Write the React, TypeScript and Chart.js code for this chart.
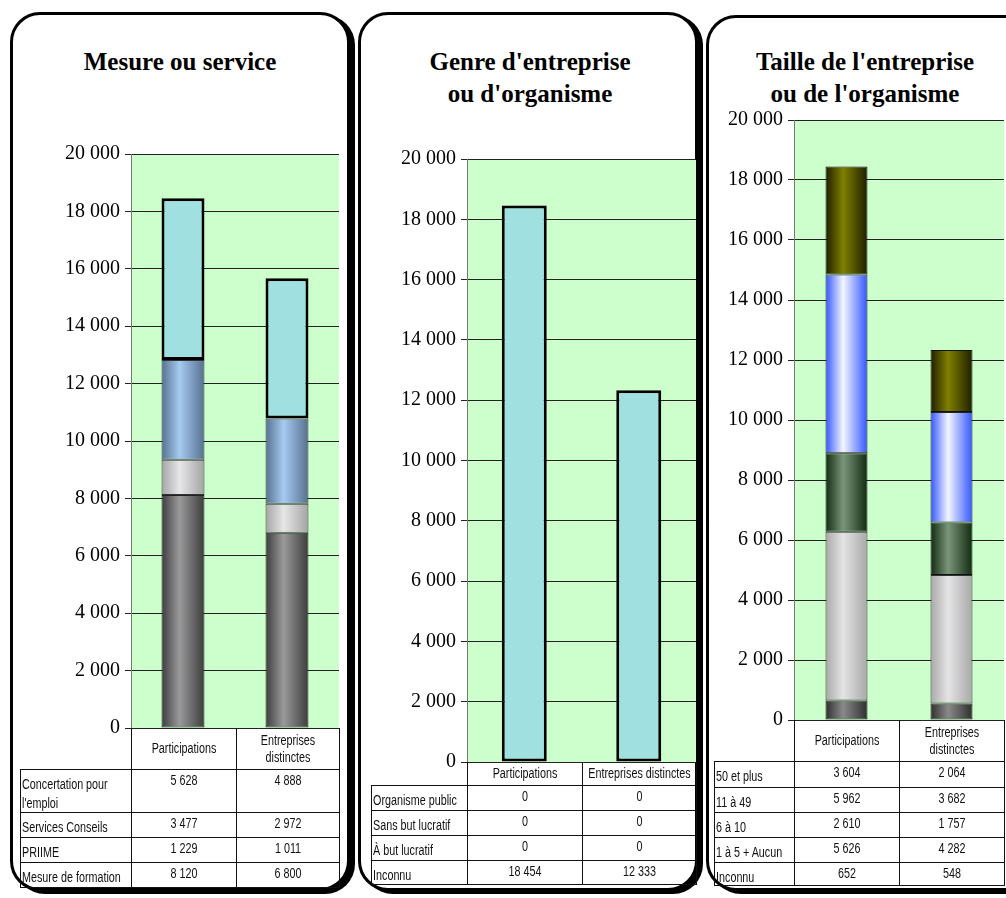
import React, { useEffect, useRef } from "react";
import { Chart, registerables } from "chart.js";

Chart.register(...registerables);

// ---------- DATA ----------
const CATEGORIES = ["Participations", "Entreprises distinctes"];
const Y_TICKS_MAX = 20000;
const Y_TICKS_STEP = 2000;

// Panel 1 : Mesure ou service
const mesureFormation = [8120, 6800];
const priime = [1229, 1011];
const servicesConseils = [3477, 2972];
const concertationEmploi = [5628, 4888];

// Panel 2 : Genre d'entreprise ou d'organisme
const genreInconnu = [18454, 12333];
const butLucratif = [0, 0];
const sansButLucratif = [0, 0];
const organismePublic = [0, 0];

// Panel 3 : Taille de l'entreprise ou de l'organisme
const tailleInconnu = [652, 548];
const unACinqAucun = [5626, 4282];
const sixADix = [2610, 1757];
const onzeAQuaranteNeuf = [5962, 3682];
const cinquanteEtPlus = [3604, 2064];

// ---------- helpers ----------
const fmt = (v: number) => String(v).replace(/\B(?=(\d{3})+(?!\d))/g, " ");

const SERIF = '"Liberation Serif", "Times New Roman", serif';
const SANS = '"Liberation Sans", Arial, sans-serif';
const SQUEEZE = 0.77;

function gradient(edge: string, center: string, barPct: number) {
  return (ctx: any) => {
    const chart = ctx.chart;
    const area = chart.chartArea;
    if (!area) return center;
    const xs = chart.scales.x;
    const x = xs.getPixelForValue(ctx.dataIndex);
    const cw = (area.right - area.left) / CATEGORIES.length;
    const hw = (cw * barPct) / 2;
    const g = chart.ctx.createLinearGradient(x - hw, 0, x + hw, 0);
    g.addColorStop(0, edge);
    g.addColorStop(0.42, center);
    g.addColorStop(1, edge);
    return g;
  };
}

const bgPlugin = {
  id: "plotBg",
  beforeDraw(chart: any) {
    const { ctx, chartArea: a } = chart;
    ctx.save();
    ctx.fillStyle = "#CCFFCC";
    ctx.fillRect(a.left, a.top, a.right - a.left, a.bottom - a.top);
    ctx.restore();
  },
};

type DS = {
  label: string;
  data: number[];
  color: any;
  border: number;
  borderColor: string;
};

function BarChart(props: {
  left: number;
  top: number;
  width: number;
  height: number;
  yWidth: number;
  pad: { left: number; right: number; top: number; bottom: number };
  barPct: number;
  datasets: DS[];
}) {
  const ref = useRef<HTMLCanvasElement | null>(null);
  useEffect(() => {
    const chart = new Chart(ref.current as HTMLCanvasElement, {
      type: "bar",
      data: {
        labels: CATEGORIES,
        datasets: props.datasets.map((d) => ({
          label: d.label,
          data: d.data,
          backgroundColor: d.color,
          borderColor: d.borderColor,
          borderWidth: d.border,
          borderSkipped: false,
          categoryPercentage: 1,
          barPercentage: props.barPct,
        })),
      },
      options: {
        animation: false,
        responsive: false,
        maintainAspectRatio: false,
        layout: { padding: props.pad },
        plugins: {
          legend: { display: false },
          tooltip: { enabled: false },
          title: { display: false },
        },
        scales: {
          x: { stacked: true, display: false },
          y: {
            stacked: true,
            min: 0,
            max: Y_TICKS_MAX,
            ticks: {
              stepSize: Y_TICKS_STEP,
              color: "#000",
              padding: 5,
              font: { family: SERIF, size: 20 },
              callback: (v: any) => fmt(Number(v)),
            },
            grid: { color: "#222", lineWidth: 1, tickLength: 6 },
            border: { color: "#777", width: 1 },
            afterFit: (s: any) => {
              s.width = props.yWidth;
              s.paddingTop = 0;
              s.paddingBottom = 0;
            },
          },
        },
      },
      plugins: [bgPlugin],
    } as any);
    return () => chart.destroy();
  }, []);
  return (
    <canvas
      ref={ref}
      width={props.width}
      height={props.height}
      style={{ position: "absolute", left: props.left, top: props.top, width: props.width, height: props.height }}
    />
  );
}

function Squeezed(props: { width: number; inset?: number; align: "left" | "center"; children: React.ReactNode }) {
  const inset = (props.inset || 0) / SQUEEZE;
  return (
    <div
      style={{
        boxSizing: "border-box",
        width: props.width / SQUEEZE,
        minWidth: props.width / SQUEEZE,
        paddingLeft: inset,
        paddingRight: inset,
        flexShrink: 0,
        transform: `scaleX(${SQUEEZE})`,
        transformOrigin: "left top",
        textAlign: props.align,
      }}
    >
      {props.children}
    </div>
  );
}

function DataTable(props: {
  labelLeft: number;
  cols: number[];
  headerTop: number;
  headerBottom: number;
  headerInset: number;
  rowBottoms: number[];
  rows: { label: string; values: number[] }[];
  headerLabels: string[];
}) {
  const cells: React.ReactNode[] = [];
  const { cols } = props;
  const cellBase: React.CSSProperties = {
    position: "absolute",
    boxSizing: "border-box",
    border: "1px solid #111",
    fontFamily: SANS,
    fontSize: 14,
    color: "#111",
    lineHeight: "15px",
    overflow: "hidden",
  };
  props.headerLabels.forEach((h, i) => {
    const w = cols[i + 1] - cols[i] + 1;
    cells.push(
      <div
        key={"h" + i}
        style={{
          ...cellBase,
          borderTop: "none",
          left: cols[i],
          top: props.headerTop,
          width: w,
          height: props.headerBottom - props.headerTop + 1,
          display: "flex",
          alignItems: "center",
          lineHeight: "17px",
        }}
      >
        <Squeezed width={w - 2} inset={props.headerInset} align="center">
          {h}
        </Squeezed>
      </div>
    );
  });
  let prev = props.headerBottom;
  props.rows.forEach((r, ri) => {
    const top = prev;
    const bottom = props.rowBottoms[ri];
    prev = bottom;
    const h = bottom - top + 1;
    const lw = cols[0] - props.labelLeft + 1;
    const tall = h > 30;
    cells.push(
      <div
        key={"l" + ri}
        style={{
          ...cellBase,
          left: props.labelLeft,
          top,
          width: lw,
          height: h,
          paddingLeft: 1,
          paddingTop: tall ? 5 : 7,
          lineHeight: tall ? "19px" : "15px",
        }}
      >
        <Squeezed width={lw - 3} align="left">
          {r.label}
        </Squeezed>
      </div>
    );
    r.values.forEach((v, vi) => {
      const w = cols[vi + 1] - cols[vi] + 1;
      cells.push(
        <div
          key={"v" + ri + "_" + vi}
          style={{
            ...cellBase,
            left: cols[vi],
            top,
            width: w,
            height: h,
            paddingTop: 3,
          }}
        >
          <Squeezed width={w - 2} align="center">
            {fmt(v)}
          </Squeezed>
        </div>
      );
    });
  });
  return <>{cells}</>;
}

function Panel(props: { left: number; top: number; width: number; height: number }) {
  return (
    <div
      style={{
        position: "absolute",
        left: props.left,
        top: props.top,
        width: props.width,
        height: props.height,
        boxSizing: "border-box",
        border: "3px solid #000",
        borderRadius: 30,
        boxShadow: "5px 3px 0 #000",
        background: "#fff",
      }}
    />
  );
}

function Title(props: { cx: number; top: number; lines: string[] }) {
  return (
    <div
      style={{
        position: "absolute",
        left: props.cx - 160,
        width: 320,
        top: props.top,
        textAlign: "center",
        fontFamily: SERIF,
        fontWeight: "bold",
        fontSize: 25,
        lineHeight: "32px",
        color: "#000",
      }}
    >
      {props.lines.map((l, i) => (
        <div key={i}>{l}</div>
      ))}
    </div>
  );
}

export default function App() {
  const p1 = 0.413;
  const p2 = 0.393;
  const p3 = 0.4;
  const ds1: DS[] = [
    { label: "Mesure de formation", data: mesureFormation, color: gradient("#3c3c3c", "#9a9a9a", p1), border: 1, borderColor: "#222" },
    { label: "PRIIME", data: priime, color: gradient("#a4a4a4", "#e6e6e6", p1), border: 1, borderColor: "#333" },
    { label: "Services Conseils", data: servicesConseils, color: gradient("#55708f", "#a6caf0", p1), border: 1, borderColor: "#333" },
    { label: "Concertation pour l'emploi", data: concertationEmploi, color: "#A0E0E0", border: 3, borderColor: "#000" },
  ];
  const ds2: DS[] = [
    { label: "Inconnu", data: genreInconnu, color: "#A0E0E0", border: 3, borderColor: "#000" },
    { label: "À but lucratif", data: butLucratif, color: "#A0E0E0", border: 0, borderColor: "#000" },
    { label: "Sans but lucratif", data: sansButLucratif, color: "#A0E0E0", border: 0, borderColor: "#000" },
    { label: "Organisme public", data: organismePublic, color: "#A0E0E0", border: 0, borderColor: "#000" },
  ];
  const ds3: DS[] = [
    { label: "Inconnu", data: tailleInconnu, color: gradient("#2e2e2e", "#8a8a8a", p3), border: 1, borderColor: "#111" },
    { label: "1 à 5 + Aucun", data: unACinqAucun, color: gradient("#a8a8a8", "#e4e4e4", p3), border: 1, borderColor: "#333" },
    { label: "6 à 10", data: sixADix, color: gradient("#112a11", "#7a967a", p3), border: 1, borderColor: "#111" },
    { label: "11 à 49", data: onzeAQuaranteNeuf, color: gradient("#3355ff", "#f4f6ff", p3), border: 1, borderColor: "#222" },
    { label: "50 et plus", data: cinquanteEtPlus, color: gradient("#1e1e00", "#808000", p3), border: 1, borderColor: "#111" },
  ];

  return (
    <div style={{ position: "absolute", left: 0, top: 0, width: 1006, height: 898, overflow: "hidden", background: "#fff" }}>
      <Panel left={10} top={12} width={340} height={879} />
      <Panel left={358} top={12} width={340} height={879} />
      <Panel left={706} top={15} width={340} height={876} />

      <Title cx={180} top={46} lines={["Mesure ou service"]} />
      <Title cx={530} top={46} lines={["Genre d'entreprise", "ou d'organisme"]} />
      <Title cx={865} top={46} lines={["Taille de l'entreprise", "ou de l'organisme"]} />

      <BarChart left={40} top={140} width={310} height={600} yWidth={91} pad={{ left: 0, right: 11, top: 14, bottom: 12 }} barPct={p1} datasets={ds1} />
      <BarChart left={370} top={140} width={340} height={635} yWidth={97} pad={{ left: 0, right: 14, top: 19, bottom: 13 }} barPct={p2} datasets={ds2} />
      <BarChart left={714} top={100} width={292} height={630} yWidth={80} pad={{ left: 0, right: 2, top: 20, bottom: 10 }} barPct={p3} datasets={ds3} />

      <DataTable
        labelLeft={20}
        cols={[131, 236, 339]}
        headerTop={728}
        headerBottom={769}
        headerInset={12}
        rowBottoms={[812, 837, 862, 887]}
        headerLabels={["Participations", "Entreprises distinctes"]}
        rows={[
          { label: "Concertation pour l'emploi", values: concertationEmploi },
          { label: "Services Conseils", values: servicesConseils },
          { label: "PRIIME", values: priime },
          { label: "Mesure de formation", values: mesureFormation },
        ]}
      />
      <DataTable
        labelLeft={371}
        cols={[467, 582, 696]}
        headerTop={762}
        headerBottom={785}
        headerInset={0}
        rowBottoms={[810, 835, 860, 884]}
        headerLabels={["Participations", "Entreprises distinctes"]}
        rows={[
          { label: "Organisme public", values: organismePublic },
          { label: "Sans but lucratif", values: sansButLucratif },
          { label: "À but lucratif", values: butLucratif },
          { label: "Inconnu", values: genreInconnu },
        ]}
      />
      <DataTable
        labelLeft={714}
        cols={[794, 899, 1004]}
        headerTop={720}
        headerBottom={761}
        headerInset={12}
        rowBottoms={[787, 812, 837, 862, 885]}
        headerLabels={["Participations", "Entreprises distinctes"]}
        rows={[
          { label: "50 et plus", values: cinquanteEtPlus },
          { label: "11 à 49", values: onzeAQuaranteNeuf },
          { label: "6 à 10", values: sixADix },
          { label: "1 à 5 + Aucun", values: unACinqAucun },
          { label: "Inconnu", values: tailleInconnu },
        ]}
      />
    </div>
  );
}
